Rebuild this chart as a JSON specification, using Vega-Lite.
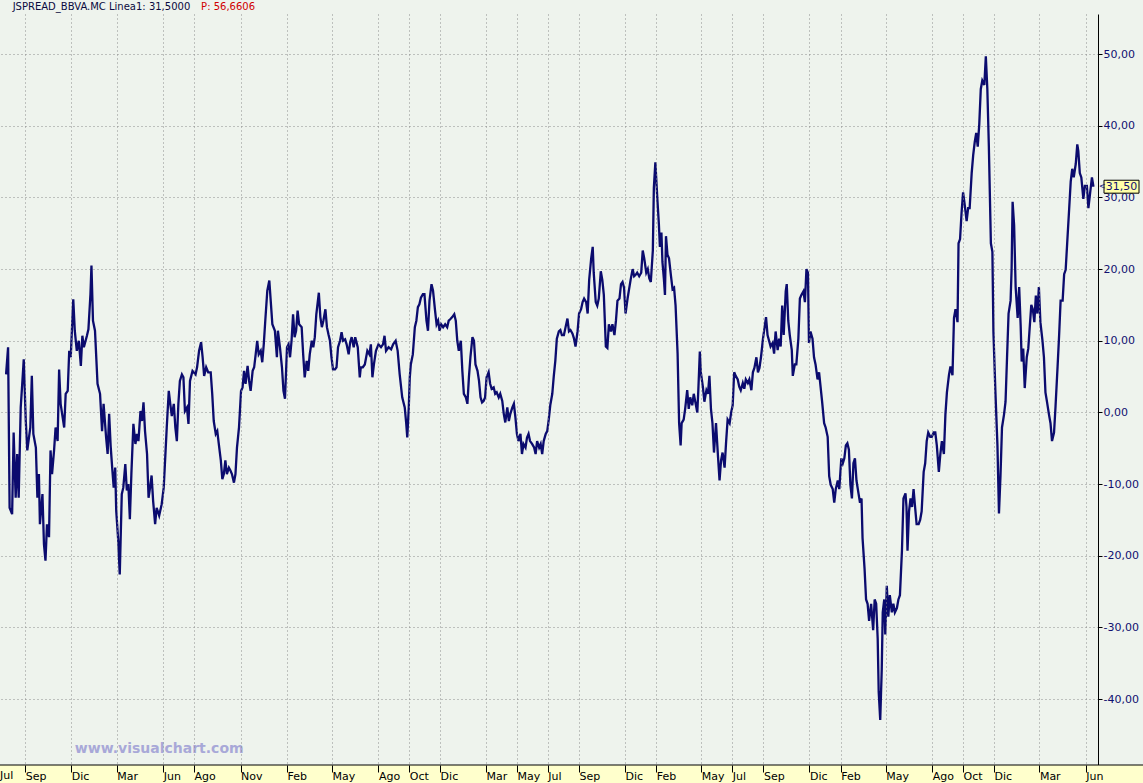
{
  "$schema": "https://vega.github.io/schema/vega-lite/v6.json",
  "width": 1098,
  "height": 751,
  "autosize": {"type": "none"},
  "padding": {"left": 0, "top": 14, "right": 45, "bottom": 18},
  "background": "#EEF3ED",
  "config": {"view": {"stroke": null}, "text": {"font": "DejaVu Sans"}},
  "layer": [
    {
      "data": {"values": [
        {"d":"2005-07-25","v":5.3},{"d":"2005-07-29","v":9.1},{"d":"2005-08-01","v":-13.3},{"d":"2005-08-06","v":-14.2},{"d":"2005-08-09","v":-2.8},{"d":"2005-08-13","v":-11.9},{"d":"2005-08-16","v":-5.8},{"d":"2005-08-19","v":-11.9},{"d":"2005-08-23","v":0.7},{"d":"2005-08-26","v":4},{"d":"2005-08-29","v":7.4},{"d":"2005-09-02","v":-1.2},{"d":"2005-09-05","v":-5.3},{"d":"2005-09-11","v":-2.1},{"d":"2005-09-14","v":5.1},{"d":"2005-09-17","v":-3},{"d":"2005-09-22","v":-4.9},{"d":"2005-09-25","v":-11.9},{"d":"2005-09-28","v":-8.6},{"d":"2005-09-30","v":-15.6},
        {"d":"2005-10-05","v":-11.4},{"d":"2005-10-08","v":-18.4},{"d":"2005-10-11","v":-20.7},{"d":"2005-10-14","v":-15.6},{"d":"2005-10-18","v":-17.4},{"d":"2005-10-21","v":-5.3},{"d":"2005-10-24","v":-8.6},{"d":"2005-10-28","v":-5.3},{"d":"2005-10-31","v":-2.1},{"d":"2005-11-04","v":-4},{"d":"2005-11-07","v":6},{"d":"2005-11-10","v":1.2},{"d":"2005-11-14","v":-0.7},{"d":"2005-11-17","v":-2.1},{"d":"2005-11-20","v":2.6},{"d":"2005-11-24","v":3},{"d":"2005-11-27","v":8.6},{"d":"2005-11-30","v":7.7},
        {"d":"2005-12-03","v":12.6},{"d":"2005-12-05","v":15.8},{"d":"2005-12-08","v":11.4},{"d":"2005-12-12","v":8.6},{"d":"2005-12-16","v":10},{"d":"2005-12-20","v":6.5},{"d":"2005-12-23","v":10.7},{"d":"2005-12-26","v":9.1},{"d":"2006-01-01","v":10.7},{"d":"2006-01-04","v":11.6},{"d":"2006-01-08","v":16.5},{"d":"2006-01-10","v":20.5},{"d":"2006-01-13","v":12.8},{"d":"2006-01-17","v":11.4},{"d":"2006-01-22","v":4},{"d":"2006-01-27","v":2.6},{"d":"2006-01-31","v":-2.6},
        {"d":"2006-02-03","v":1.2},{"d":"2006-02-08","v":-3.5},{"d":"2006-02-11","v":-5.8},{"d":"2006-02-14","v":-0.2},{"d":"2006-02-17","v":-4.7},{"d":"2006-02-20","v":-7.7},{"d":"2006-02-23","v":-10.5},{"d":"2006-02-26","v":-7.7},{"d":"2006-02-28","v":-13.7},{"d":"2006-03-04","v":-17.9},{"d":"2006-03-07","v":-22.6},{"d":"2006-03-11","v":-11.4},{"d":"2006-03-14","v":-10.5},{"d":"2006-03-18","v":-7.2},{"d":"2006-03-21","v":-10.9},{"d":"2006-03-24","v":-10},{"d":"2006-03-27","v":-14.9},{"d":"2006-03-30","v":-8.6},
        {"d":"2006-04-03","v":-1.6},{"d":"2006-04-07","v":-4.4},{"d":"2006-04-10","v":-3},{"d":"2006-04-13","v":-4},{"d":"2006-04-17","v":0.2},{"d":"2006-04-20","v":-1.2},{"d":"2006-04-23","v":1.4},{"d":"2006-04-26","v":-2.6},{"d":"2006-04-30","v":-5.8},{"d":"2006-05-03","v":-11.9},{"d":"2006-05-06","v":-10.5},{"d":"2006-05-09","v":-8.8},{"d":"2006-05-12","v":-12.3},{"d":"2006-05-16","v":-15.6},{"d":"2006-05-19","v":-13.3},{"d":"2006-05-24","v":-14.4},{"d":"2006-05-29","v":-12.8},
        {"d":"2006-06-02","v":-10.5},{"d":"2006-06-05","v":-6.3},{"d":"2006-06-08","v":-2.1},{"d":"2006-06-12","v":3},{"d":"2006-06-15","v":1.2},{"d":"2006-06-18","v":-0.5},{"d":"2006-06-22","v":1.2},{"d":"2006-06-25","v":-2.1},{"d":"2006-06-28","v":-4},{"d":"2006-07-01","v":1.2},{"d":"2006-07-04","v":4.4},{"d":"2006-07-08","v":5.3},{"d":"2006-07-11","v":4.9},{"d":"2006-07-14","v":0.2},{"d":"2006-07-18","v":0.7},{"d":"2006-07-21","v":-1.6},{"d":"2006-07-24","v":4.4},{"d":"2006-07-29","v":5.8},
        {"d":"2006-08-04","v":5.3},{"d":"2006-08-07","v":6.3},{"d":"2006-08-11","v":8.6},{"d":"2006-08-15","v":9.8},{"d":"2006-08-18","v":7.7},{"d":"2006-08-21","v":5.1},{"d":"2006-08-25","v":6.3},{"d":"2006-08-29","v":5.6},{"d":"2006-09-03","v":5.6},{"d":"2006-09-06","v":2.6},{"d":"2006-09-09","v":-1.2},{"d":"2006-09-13","v":-3},{"d":"2006-09-16","v":-2.6},{"d":"2006-09-19","v":-4.4},{"d":"2006-09-23","v":-6.7},{"d":"2006-09-26","v":-9.3},{"d":"2006-09-29","v":-8.6},
        {"d":"2006-10-02","v":-6.7},{"d":"2006-10-05","v":-8.6},{"d":"2006-10-09","v":-7.7},{"d":"2006-10-12","v":-8.1},{"d":"2006-10-15","v":-8.6},{"d":"2006-10-19","v":-9.8},{"d":"2006-10-22","v":-8.6},{"d":"2006-10-25","v":-4.9},{"d":"2006-10-29","v":-2.1},{"d":"2006-11-02","v":3},{"d":"2006-11-05","v":3.5},{"d":"2006-11-08","v":5.8},{"d":"2006-11-11","v":4},{"d":"2006-11-15","v":6.5},{"d":"2006-11-18","v":4.4},{"d":"2006-11-21","v":3},{"d":"2006-11-25","v":5.8},{"d":"2006-11-28","v":6.3},
        {"d":"2006-12-01","v":8.1},{"d":"2006-12-04","v":10},{"d":"2006-12-07","v":8.1},{"d":"2006-12-11","v":8.6},{"d":"2006-12-14","v":7},{"d":"2006-12-17","v":9.5},{"d":"2006-12-20","v":12.8},{"d":"2006-12-24","v":17},{"d":"2006-12-28","v":18.4},
        {"d":"2007-01-03","v":12.3},{"d":"2007-01-08","v":11.4},{"d":"2007-01-12","v":7.7},{"d":"2007-01-14","v":11.4},{"d":"2007-01-18","v":9.1},{"d":"2007-01-22","v":6.3},{"d":"2007-01-25","v":3},{"d":"2007-01-28","v":1.9},{"d":"2007-02-01","v":9.1},{"d":"2007-02-04","v":9.5},{"d":"2007-02-07","v":7.7},{"d":"2007-02-10","v":10},{"d":"2007-02-13","v":13.7},{"d":"2007-02-16","v":10.5},{"d":"2007-02-19","v":11.4},{"d":"2007-02-22","v":14.2},{"d":"2007-02-25","v":12.3},
        {"d":"2007-03-02","v":11.9},{"d":"2007-03-05","v":8.1},{"d":"2007-03-08","v":4.9},{"d":"2007-03-12","v":7.2},{"d":"2007-03-15","v":5.8},{"d":"2007-03-18","v":8.1},{"d":"2007-03-22","v":10},{"d":"2007-03-25","v":9.1},{"d":"2007-03-28","v":10.5},{"d":"2007-03-31","v":13.7},{"d":"2007-04-05","v":16.7},{"d":"2007-04-08","v":13.3},{"d":"2007-04-11","v":11.9},{"d":"2007-04-14","v":12.8},{"d":"2007-04-18","v":14.4},{"d":"2007-04-21","v":11.9},{"d":"2007-04-24","v":10.9},{"d":"2007-04-27","v":10},{"d":"2007-04-30","v":7.7},
        {"d":"2007-05-03","v":6},{"d":"2007-05-07","v":6},{"d":"2007-05-10","v":6.3},{"d":"2007-05-13","v":9.1},{"d":"2007-05-17","v":10},{"d":"2007-05-20","v":11.2},{"d":"2007-05-23","v":10},{"d":"2007-05-27","v":10.2},{"d":"2007-05-30","v":9.5},{"d":"2007-06-03","v":8.1},{"d":"2007-06-06","v":9.8},{"d":"2007-06-09","v":10.5},{"d":"2007-06-13","v":9.1},{"d":"2007-06-16","v":10.5},{"d":"2007-06-21","v":9.1},{"d":"2007-06-25","v":4.9},{"d":"2007-06-27","v":6.3},
        {"d":"2007-07-01","v":6.3},{"d":"2007-07-05","v":6.7},{"d":"2007-07-10","v":8.6},{"d":"2007-07-14","v":8.1},{"d":"2007-07-17","v":9.5},{"d":"2007-07-20","v":4.9},{"d":"2007-07-23","v":6.7},{"d":"2007-07-27","v":8.6},{"d":"2007-08-01","v":9.5},{"d":"2007-08-06","v":9.1},{"d":"2007-08-10","v":9.5},{"d":"2007-08-13","v":10.7},{"d":"2007-08-16","v":8.6},{"d":"2007-08-21","v":9.1},{"d":"2007-08-26","v":8.8},{"d":"2007-08-30","v":9.5},
        {"d":"2007-09-04","v":10},{"d":"2007-09-08","v":8.6},{"d":"2007-09-12","v":5.3},{"d":"2007-09-17","v":2.1},{"d":"2007-09-22","v":0.7},{"d":"2007-09-25","v":-1.6},{"d":"2007-09-27","v":-3.5},{"d":"2007-09-30","v":0.7},{"d":"2007-10-02","v":4.9},{"d":"2007-10-04","v":6.7},{"d":"2007-10-08","v":8.1},{"d":"2007-10-12","v":11.9},{"d":"2007-10-15","v":12.8},{"d":"2007-10-18","v":14.7},{"d":"2007-10-21","v":15.1},{"d":"2007-10-24","v":16},{"d":"2007-10-28","v":16.5},{"d":"2007-10-31","v":16.5},
        {"d":"2007-11-04","v":12.8},{"d":"2007-11-07","v":11.4},{"d":"2007-11-10","v":15.6},{"d":"2007-11-14","v":17.9},{"d":"2007-11-17","v":17},{"d":"2007-11-21","v":14.2},{"d":"2007-11-24","v":12.3},{"d":"2007-11-27","v":12.8},{"d":"2007-11-30","v":11.4},{"d":"2007-12-03","v":12.3},{"d":"2007-12-07","v":11.9},{"d":"2007-12-11","v":12.3},{"d":"2007-12-15","v":11.9},{"d":"2007-12-18","v":12.8},{"d":"2007-12-21","v":13},{"d":"2007-12-25","v":13.3},{"d":"2007-12-29","v":13.7},
        {"d":"2008-01-01","v":12.8},{"d":"2008-01-04","v":10},{"d":"2008-01-07","v":8.6},{"d":"2008-01-11","v":10},{"d":"2008-01-14","v":5.8},{"d":"2008-01-17","v":2.6},{"d":"2008-01-21","v":2.1},{"d":"2008-01-24","v":1.2},{"d":"2008-01-27","v":4.9},{"d":"2008-01-30","v":7.7},{"d":"2008-02-03","v":10.5},{"d":"2008-02-06","v":10},{"d":"2008-02-09","v":6.7},{"d":"2008-02-13","v":5.8},{"d":"2008-02-16","v":4.4},{"d":"2008-02-19","v":2.1},{"d":"2008-02-22","v":1.4},{"d":"2008-02-25","v":1.6},{"d":"2008-02-28","v":2.1},
        {"d":"2008-03-02","v":4.9},{"d":"2008-03-06","v":5.6},{"d":"2008-03-09","v":4},{"d":"2008-03-12","v":3.3},{"d":"2008-03-16","v":3.5},{"d":"2008-03-19","v":2.6},{"d":"2008-03-22","v":2.8},{"d":"2008-03-26","v":2.1},{"d":"2008-03-29","v":2.6},{"d":"2008-04-02","v":1.6},{"d":"2008-04-05","v":-0.2},{"d":"2008-04-08","v":-1.4},{"d":"2008-04-12","v":0.7},{"d":"2008-04-15","v":-1.2},{"d":"2008-04-18","v":-0.2},{"d":"2008-04-22","v":0.7},{"d":"2008-04-25","v":1.2},{"d":"2008-04-28","v":-0.7},
        {"d":"2008-05-01","v":-3},{"d":"2008-05-04","v":-4},{"d":"2008-05-08","v":-3},{"d":"2008-05-11","v":-5.8},{"d":"2008-05-14","v":-4.4},{"d":"2008-05-18","v":-4.9},{"d":"2008-05-21","v":-3.5},{"d":"2008-05-24","v":-3},{"d":"2008-05-27","v":-4},{"d":"2008-05-31","v":-4.4},{"d":"2008-06-04","v":-4.9},{"d":"2008-06-07","v":-5.8},{"d":"2008-06-10","v":-4},{"d":"2008-06-14","v":-4.9},{"d":"2008-06-17","v":-4.4},{"d":"2008-06-20","v":-5.8},{"d":"2008-06-23","v":-4},{"d":"2008-06-27","v":-3},{"d":"2008-06-30","v":-2.6},
        {"d":"2008-07-03","v":-1},{"d":"2008-07-06","v":1},{"d":"2008-07-10","v":2.6},{"d":"2008-07-13","v":5.1},{"d":"2008-07-16","v":7.2},{"d":"2008-07-19","v":10.3},{"d":"2008-07-23","v":11.3},{"d":"2008-07-26","v":11.5},{"d":"2008-07-29","v":10.8},{"d":"2008-08-02","v":10.8},{"d":"2008-08-05","v":11.8},{"d":"2008-08-09","v":13.1},{"d":"2008-08-12","v":11.3},{"d":"2008-08-15","v":11.5},{"d":"2008-08-19","v":11},{"d":"2008-08-22","v":10.3},{"d":"2008-08-25","v":9.2},{"d":"2008-08-29","v":11.3},
        {"d":"2008-09-01","v":13.8},{"d":"2008-09-05","v":14.4},{"d":"2008-09-08","v":15.4},{"d":"2008-09-11","v":15.9},{"d":"2008-09-15","v":15.4},{"d":"2008-09-18","v":13.8},{"d":"2008-09-21","v":18.5},{"d":"2008-09-25","v":21.5},{"d":"2008-09-28","v":23.1},{"d":"2008-09-30","v":19.5},{"d":"2008-10-04","v":15.4},{"d":"2008-10-07","v":14.9},{"d":"2008-10-10","v":15.9},{"d":"2008-10-14","v":19.7},{"d":"2008-10-17","v":18.5},{"d":"2008-10-20","v":16.4},{"d":"2008-10-24","v":9.2},{"d":"2008-10-27","v":9},{"d":"2008-10-30","v":12.3},
        {"d":"2008-11-03","v":11.3},{"d":"2008-11-06","v":12.3},{"d":"2008-11-10","v":10.8},{"d":"2008-11-13","v":12.8},{"d":"2008-11-16","v":15.6},{"d":"2008-11-20","v":15.9},{"d":"2008-11-23","v":17.9},{"d":"2008-11-26","v":18.2},{"d":"2008-11-29","v":17.4},{"d":"2008-12-02","v":13.8},{"d":"2008-12-06","v":15.9},{"d":"2008-12-09","v":17.2},{"d":"2008-12-12","v":18.5},{"d":"2008-12-16","v":20},{"d":"2008-12-19","v":19},{"d":"2008-12-22","v":19.2},{"d":"2008-12-25","v":19.5},{"d":"2008-12-29","v":19},
        {"d":"2009-01-02","v":19.5},{"d":"2009-01-05","v":22.6},{"d":"2009-01-08","v":21.5},{"d":"2009-01-12","v":19.5},{"d":"2009-01-15","v":20},{"d":"2009-01-18","v":18.7},{"d":"2009-01-21","v":18.2},{"d":"2009-01-25","v":22.6},{"d":"2009-01-27","v":31.3},{"d":"2009-01-30","v":34.9},{"d":"2009-02-03","v":29.7},{"d":"2009-02-06","v":26.2},{"d":"2009-02-08","v":23.1},{"d":"2009-02-11","v":25.1},{"d":"2009-02-13","v":21},{"d":"2009-02-16","v":18.5},{"d":"2009-02-18","v":16.4},{"d":"2009-02-20","v":24.6},{"d":"2009-02-23","v":22},{"d":"2009-02-26","v":21.5},
        {"d":"2009-03-02","v":19},{"d":"2009-03-05","v":17.2},{"d":"2009-03-08","v":17.4},{"d":"2009-03-11","v":14.9},{"d":"2009-03-15","v":8.2},{"d":"2009-03-18","v":-1.5},{"d":"2009-03-21","v":-4.6},{"d":"2009-03-23","v":-1.5},{"d":"2009-03-27","v":-1},{"d":"2009-03-30","v":0.5},{"d":"2009-04-03","v":3.1},{"d":"2009-04-06","v":0.5},{"d":"2009-04-09","v":2.1},{"d":"2009-04-13","v":1},{"d":"2009-04-16","v":2.6},{"d":"2009-04-19","v":1.5},{"d":"2009-04-23","v":0},{"d":"2009-04-25","v":3.1},{"d":"2009-04-28","v":8.5},{"d":"2009-04-30","v":5.6},
        {"d":"2009-05-04","v":3.6},{"d":"2009-05-07","v":1.5},{"d":"2009-05-11","v":3.1},{"d":"2009-05-14","v":2.6},{"d":"2009-05-17","v":5.1},{"d":"2009-05-20","v":0.5},{"d":"2009-05-23","v":-1.5},{"d":"2009-05-26","v":-5.6},{"d":"2009-05-30","v":-1.5},{"d":"2009-06-03","v":-6.2},{"d":"2009-06-06","v":-9.5},{"d":"2009-06-09","v":-6.7},{"d":"2009-06-12","v":-5.6},{"d":"2009-06-16","v":-7.7},{"d":"2009-06-19","v":-4.1},{"d":"2009-06-22","v":-1},{"d":"2009-06-26","v":-1.5},{"d":"2009-06-29","v":0},
        {"d":"2009-07-02","v":1},{"d":"2009-07-05","v":5.6},{"d":"2009-07-08","v":5.1},{"d":"2009-07-12","v":4.6},{"d":"2009-07-15","v":3.6},{"d":"2009-07-18","v":3.1},{"d":"2009-07-22","v":4.1},{"d":"2009-07-25","v":3.3},{"d":"2009-07-28","v":4.6},{"d":"2009-08-01","v":4.1},{"d":"2009-08-04","v":4.6},{"d":"2009-08-08","v":3.1},{"d":"2009-08-11","v":5.6},{"d":"2009-08-14","v":6.2},{"d":"2009-08-18","v":7.7},{"d":"2009-08-21","v":5.6},{"d":"2009-08-24","v":6.2},{"d":"2009-08-27","v":7.7},{"d":"2009-08-31","v":10.3},
        {"d":"2009-09-04","v":12.3},{"d":"2009-09-06","v":13.3},{"d":"2009-09-09","v":10.8},{"d":"2009-09-12","v":10},{"d":"2009-09-15","v":9.2},{"d":"2009-09-19","v":9.7},{"d":"2009-09-22","v":8.2},{"d":"2009-09-25","v":11.3},{"d":"2009-09-29","v":8.7},{"d":"2009-10-02","v":10.3},{"d":"2009-10-05","v":9.2},{"d":"2009-10-08","v":14.9},{"d":"2009-10-11","v":10.8},{"d":"2009-10-15","v":16.9},{"d":"2009-10-17","v":17.9},{"d":"2009-10-20","v":12.8},{"d":"2009-10-23","v":10.8},{"d":"2009-10-27","v":8.7},{"d":"2009-10-29","v":5.1},
        {"d":"2009-11-02","v":6.7},{"d":"2009-11-05","v":6.7},{"d":"2009-11-09","v":10.3},{"d":"2009-11-12","v":15.9},{"d":"2009-11-15","v":16.4},{"d":"2009-11-19","v":16.9},{"d":"2009-11-22","v":15.4},{"d":"2009-11-25","v":20},{"d":"2009-11-28","v":19.5},{"d":"2009-11-30","v":9.7},{"d":"2009-12-03","v":11.3},{"d":"2009-12-07","v":10.3},{"d":"2009-12-10","v":7.7},{"d":"2009-12-13","v":6.7},{"d":"2009-12-17","v":4.6},{"d":"2009-12-20","v":5.6},{"d":"2009-12-26","v":1.5},{"d":"2009-12-30","v":-1.5},
        {"d":"2010-01-02","v":-2.1},{"d":"2010-01-06","v":-3.4},{"d":"2010-01-09","v":-8.9},{"d":"2010-01-12","v":-10.1},{"d":"2010-01-16","v":-10.7},{"d":"2010-01-19","v":-12.6},{"d":"2010-01-22","v":-10.7},{"d":"2010-01-26","v":-9.5},{"d":"2010-01-29","v":-10.7},{"d":"2010-02-02","v":-6.4},{"d":"2010-02-05","v":-7.1},{"d":"2010-02-08","v":-6.4},{"d":"2010-02-11","v":-4.6},{"d":"2010-02-14","v":-4.3},{"d":"2010-02-17","v":-5.2},{"d":"2010-02-20","v":-10.1},{"d":"2010-02-23","v":-12},{"d":"2010-02-26","v":-7.1},
        {"d":"2010-03-01","v":-6.4},{"d":"2010-03-04","v":-9.5},{"d":"2010-03-08","v":-11.3},{"d":"2010-03-11","v":-12.6},{"d":"2010-03-14","v":-12},{"d":"2010-03-16","v":-17.5},{"d":"2010-03-20","v":-21.8},{"d":"2010-03-23","v":-26.1},{"d":"2010-03-26","v":-26.7},{"d":"2010-03-29","v":-29.1},{"d":"2010-04-02","v":-26.7},{"d":"2010-04-06","v":-30.4},{"d":"2010-04-09","v":-26.1},{"d":"2010-04-12","v":-26.7},{"d":"2010-04-15","v":-31.6},{"d":"2010-04-17","v":-39},{"d":"2010-04-20","v":-42.9},{"d":"2010-04-23","v":-35.9},{"d":"2010-04-25","v":-27.9},{"d":"2010-04-28","v":-26.1},{"d":"2010-04-30","v":-31},
        {"d":"2010-05-03","v":-24.2},{"d":"2010-05-06","v":-28.5},{"d":"2010-05-09","v":-25.5},{"d":"2010-05-13","v":-27.9},{"d":"2010-05-16","v":-26.7},{"d":"2010-05-19","v":-27.9},{"d":"2010-05-23","v":-27.3},{"d":"2010-05-26","v":-26.1},{"d":"2010-05-29","v":-25.5},{"d":"2010-06-02","v":-19.3},{"d":"2010-06-05","v":-12},{"d":"2010-06-09","v":-11.3},{"d":"2010-06-11","v":-13.2},{"d":"2010-06-13","v":-19.3},{"d":"2010-06-16","v":-13.8},{"d":"2010-06-19","v":-12},{"d":"2010-06-22","v":-13.2},{"d":"2010-06-25","v":-10.7},{"d":"2010-06-28","v":-13.2},
        {"d":"2010-07-01","v":-15.6},{"d":"2010-07-05","v":-15.6},{"d":"2010-07-08","v":-15},{"d":"2010-07-11","v":-13.8},{"d":"2010-07-15","v":-8.3},{"d":"2010-07-18","v":-7.1},{"d":"2010-07-21","v":-4},{"d":"2010-07-24","v":-2.8},{"d":"2010-07-28","v":-3.4},{"d":"2010-07-31","v":-3.4},{"d":"2010-08-04","v":-2.8},{"d":"2010-08-07","v":-2.8},{"d":"2010-08-10","v":-4.6},{"d":"2010-08-14","v":-8.3},{"d":"2010-08-17","v":-5.8},{"d":"2010-08-20","v":-4},{"d":"2010-08-24","v":-5.8},{"d":"2010-08-27","v":-0.3},{"d":"2010-08-30","v":2.8},
        {"d":"2010-09-03","v":5.2},{"d":"2010-09-06","v":6.4},{"d":"2010-09-10","v":5.2},{"d":"2010-09-13","v":13.2},{"d":"2010-09-16","v":14.4},{"d":"2010-09-20","v":12.6},{"d":"2010-09-22","v":23.6},{"d":"2010-09-25","v":24.2},{"d":"2010-09-28","v":27.9},{"d":"2010-10-01","v":30.7},{"d":"2010-10-04","v":29.1},{"d":"2010-10-08","v":26.7},{"d":"2010-10-11","v":28.5},{"d":"2010-10-14","v":28.5},{"d":"2010-10-18","v":33.4},{"d":"2010-10-21","v":35.9},{"d":"2010-10-24","v":37.7},{"d":"2010-10-27","v":39},{"d":"2010-10-30","v":37.1},
        {"d":"2010-11-02","v":40.2},{"d":"2010-11-05","v":45.1},{"d":"2010-11-08","v":46.3},{"d":"2010-11-12","v":45.7},{"d":"2010-11-15","v":49.7},{"d":"2010-11-18","v":45.1},{"d":"2010-11-21","v":37.1},{"d":"2010-11-25","v":23.6},{"d":"2010-11-28","v":22.4},{"d":"2010-11-30","v":11.3},{"d":"2010-12-04","v":2.8},{"d":"2010-12-08","v":-4.6},{"d":"2010-12-11","v":-14.1},{"d":"2010-12-14","v":-8.9},{"d":"2010-12-17","v":-2.1},{"d":"2010-12-21","v":-0.3},{"d":"2010-12-24","v":1.5},{"d":"2010-12-27","v":7.7},{"d":"2010-12-30","v":13.8},
        {"d":"2011-01-03","v":15.6},{"d":"2011-01-05","v":19.9},{"d":"2011-01-07","v":29.4},{"d":"2011-01-10","v":26.1},{"d":"2011-01-13","v":17.5},{"d":"2011-01-17","v":13.2},{"d":"2011-01-20","v":17.5},{"d":"2011-01-23","v":12},{"d":"2011-01-25","v":7.1},{"d":"2011-01-28","v":8.9},{"d":"2011-01-31","v":3.4},{"d":"2011-02-04","v":7.7},{"d":"2011-02-07","v":8.9},{"d":"2011-02-10","v":12},{"d":"2011-02-13","v":15},{"d":"2011-02-16","v":14.4},{"d":"2011-02-19","v":12.6},{"d":"2011-02-22","v":16.3},{"d":"2011-02-25","v":13.8},{"d":"2011-02-28","v":17.5},
        {"d":"2011-03-03","v":12.6},{"d":"2011-03-07","v":10.1},{"d":"2011-03-10","v":7.7},{"d":"2011-03-13","v":2.8},{"d":"2011-03-16","v":1.5},{"d":"2011-03-20","v":-0.3},{"d":"2011-03-23","v":-1.5},{"d":"2011-03-26","v":-4},{"d":"2011-03-30","v":-2.8},{"d":"2011-04-02","v":0.9},{"d":"2011-04-06","v":6.4},{"d":"2011-04-09","v":10.7},{"d":"2011-04-12","v":15.6},{"d":"2011-04-16","v":15.6},{"d":"2011-04-19","v":19.3},{"d":"2011-04-22","v":19.9},{"d":"2011-04-25","v":23.6},{"d":"2011-04-29","v":28.5},
        {"d":"2011-05-02","v":32.2},{"d":"2011-05-05","v":34},{"d":"2011-05-08","v":32.8},{"d":"2011-05-12","v":34.7},{"d":"2011-05-15","v":37.4},{"d":"2011-05-17","v":36.5},{"d":"2011-05-20","v":33.4},{"d":"2011-05-23","v":32.8},{"d":"2011-05-27","v":29.8},{"d":"2011-05-30","v":31.6},{"d":"2011-06-03","v":31.6},{"d":"2011-06-06","v":28.5},{"d":"2011-06-10","v":31},{"d":"2011-06-13","v":32.8},{"d":"2011-06-16","v":31.5}
      ]},
      "mark": {"type": "line", "color": "#0B0B6E", "strokeWidth": 2.3, "interpolate": "linear"},
      "encoding": {
        "x": {
          "field": "d", "type": "temporal",
          "scale": {"type": "utc", "nice": false, "domain": [{"year": 2005, "month": 7, "date": 13, "utc": true}, {"year": 2011, "month": 6, "date": 25, "utc": true}]},
          "axis": {
            "title": null, "orient": "bottom", "domain": false, "zindex": 1,
            "values": [
              {"year": 2005, "month": 9, "date": 1, "utc": true},
              {"year": 2005, "month": 12, "date": 1, "utc": true},
              {"year": 2006, "month": 3, "date": 1, "utc": true},
              {"year": 2006, "month": 6, "date": 1, "utc": true},
              {"year": 2006, "month": 8, "date": 1, "utc": true},
              {"year": 2006, "month": 11, "date": 1, "utc": true},
              {"year": 2007, "month": 2, "date": 1, "utc": true},
              {"year": 2007, "month": 5, "date": 1, "utc": true},
              {"year": 2007, "month": 8, "date": 1, "utc": true},
              {"year": 2007, "month": 10, "date": 1, "utc": true},
              {"year": 2007, "month": 12, "date": 1, "utc": true},
              {"year": 2008, "month": 3, "date": 1, "utc": true},
              {"year": 2008, "month": 5, "date": 1, "utc": true},
              {"year": 2008, "month": 7, "date": 1, "utc": true},
              {"year": 2008, "month": 9, "date": 1, "utc": true},
              {"year": 2008, "month": 12, "date": 1, "utc": true},
              {"year": 2009, "month": 2, "date": 1, "utc": true},
              {"year": 2009, "month": 5, "date": 1, "utc": true},
              {"year": 2009, "month": 7, "date": 1, "utc": true},
              {"year": 2009, "month": 9, "date": 1, "utc": true},
              {"year": 2009, "month": 12, "date": 1, "utc": true},
              {"year": 2010, "month": 2, "date": 1, "utc": true},
              {"year": 2010, "month": 5, "date": 1, "utc": true},
              {"year": 2010, "month": 8, "date": 1, "utc": true},
              {"year": 2010, "month": 10, "date": 1, "utc": true},
              {"year": 2010, "month": 12, "date": 1, "utc": true},
              {"year": 2011, "month": 3, "date": 1, "utc": true},
              {"year": 2011, "month": 6, "date": 1, "utc": true}
            ],
            "labelExpr": "['Ene','Feb','Mar','Abr','May','Jun','Jul','Ago','Sep','Oct','Nov','Dic'][utcmonth(datum.value)]",
            "labelAlign": "left", "labelBaseline": "middle", "labelPadding": 4, "labelDx": 2,
            "labelFont": "DejaVu Sans", "labelFontSize": 11, "labelColor": "#000000",
            "labelOverlap": false, "labelFlush": false, "labelBound": false,
            "ticks": true, "tickColor": "#000000", "tickSize": 7, "tickWidth": 1,
            "grid": true, "gridColor": "#8C8C8C", "gridDash": [1, 3], "gridWidth": 1
          }
        },
        "y": {
          "field": "v", "type": "quantitative",
          "scale": {"domain": [-49.2, 55.6], "nice": false, "zero": false},
          "axis": {
            "title": null, "orient": "right", "zindex": 0,
            "values": [-40, -30, -20, -10, 0, 10, 20, 30, 40, 50],
            "labelExpr": "(datum.value < 0 ? '-' : '') + replace(format(abs(datum.value), '.2f'), '.', ',')",
            "labelAlign": "left", "labelBaseline": "middle", "labelPadding": 1,
            "labelFont": "DejaVu Sans", "labelFontSize": 11, "labelColor": "#101070",
            "labelOverlap": false, "labelFlush": false, "labelBound": false,
            "domain": true, "domainColor": "#000000", "domainWidth": 1,
            "ticks": true, "tickColor": "#000000", "tickSize": 4, "tickWidth": 1,
            "grid": true, "gridColor": "#8C8C8C", "gridDash": [1, 3], "gridWidth": 1
          }
        }
      }
    },
    {
      "data": {"values": [{}]},
      "mark": {"type": "rect", "fill": "#FFFFCC", "clip": false},
      "encoding": {
        "x": {"datum": {"year": 2005, "month": 7, "date": 1, "utc": true}, "type": "temporal"},
        "x2": {"datum": {"year": 2011, "month": 9, "date": 30, "utc": true}},
        "y": {"datum": -49.2, "type": "quantitative"},
        "y2": {"datum": -53.5}
      }
    },
    {
      "data": {"values": [{}]},
      "mark": {"type": "rule", "color": "#000000", "strokeWidth": 1, "clip": false},
      "encoding": {
        "x": {"datum": {"year": 2005, "month": 7, "date": 1, "utc": true}, "type": "temporal"},
        "x2": {"datum": {"year": 2011, "month": 9, "date": 30, "utc": true}},
        "y": {"datum": -49.2, "type": "quantitative"}
      }
    },
    {
      "data": {"values": [{}]},
      "mark": {"type": "text", "text": "www.visualchart.com", "font": "DejaVu Sans", "fontSize": 14, "fontWeight": "bold", "color": "#A8A8D8", "align": "left", "baseline": "middle"},
      "encoding": {
        "x": {"datum": {"year": 2005, "month": 12, "date": 8, "utc": true}, "type": "temporal"},
        "y": {"datum": -47.0, "type": "quantitative"}
      }
    },
    {
      "data": {"values": [{}]},
      "mark": {"type": "text", "text": "JSPREAD_BBVA.MC Linea1: 31,5000", "font": "DejaVu Sans", "fontSize": 10, "color": "#0A0A40", "align": "left", "baseline": "middle", "clip": false},
      "encoding": {
        "x": {"datum": {"year": 2005, "month": 8, "date": 7, "utc": true}, "type": "temporal"},
        "y": {"datum": 56.58, "type": "quantitative"}
      }
    },
    {
      "data": {"values": [{}]},
      "mark": {"type": "text", "text": "P: 56,6606", "font": "DejaVu Sans", "fontSize": 10, "color": "#D00000", "align": "left", "baseline": "middle", "clip": false},
      "encoding": {
        "x": {"datum": {"year": 2006, "month": 8, "date": 15, "utc": true}, "type": "temporal"},
        "y": {"datum": 56.58, "type": "quantitative"}
      }
    },
    {
      "data": {"values": [{}]},
      "mark": {"type": "point", "shape": "M-1,-0.37L1,-0.37L1,0.37L-1,0.37Z", "size": 1225, "filled": true, "fill": "#FFFFA8", "stroke": "#000000", "strokeWidth": 1, "opacity": 1, "xOffset": 23.5, "clip": false},
      "encoding": {
        "x": {"datum": {"year": 2011, "month": 6, "date": 25, "utc": true}, "type": "temporal"},
        "y": {"datum": 31.5, "type": "quantitative"}
      }
    },
    {
      "data": {"values": [{}]},
      "mark": {"type": "text", "text": "31,50", "font": "DejaVu Sans", "fontSize": 11, "color": "#101070", "align": "center", "baseline": "middle", "dx": 23.5, "clip": false},
      "encoding": {
        "x": {"datum": {"year": 2011, "month": 6, "date": 25, "utc": true}, "type": "temporal"},
        "y": {"datum": 31.5, "type": "quantitative"}
      }
    },
    {
      "data": {"values": [{}]},
      "mark": {"type": "text", "text": "<", "font": "DejaVu Sans", "fontSize": 8, "color": "#101070", "align": "left", "baseline": "middle", "dx": 1, "clip": false},
      "encoding": {
        "x": {"datum": {"year": 2011, "month": 6, "date": 25, "utc": true}, "type": "temporal"},
        "y": {"datum": 31.5, "type": "quantitative"}
      }
    },
    {
      "data": {"values": [{}]},
      "mark": {"type": "text", "text": "Jul", "font": "DejaVu Sans", "fontSize": 11, "color": "#000000", "align": "left", "baseline": "middle", "clip": false},
      "encoding": {
        "x": {"datum": {"year": 2005, "month": 7, "date": 13, "utc": true}, "type": "temporal"},
        "y": {"datum": -50.75, "type": "quantitative"}
      }
    }
  ]
}
